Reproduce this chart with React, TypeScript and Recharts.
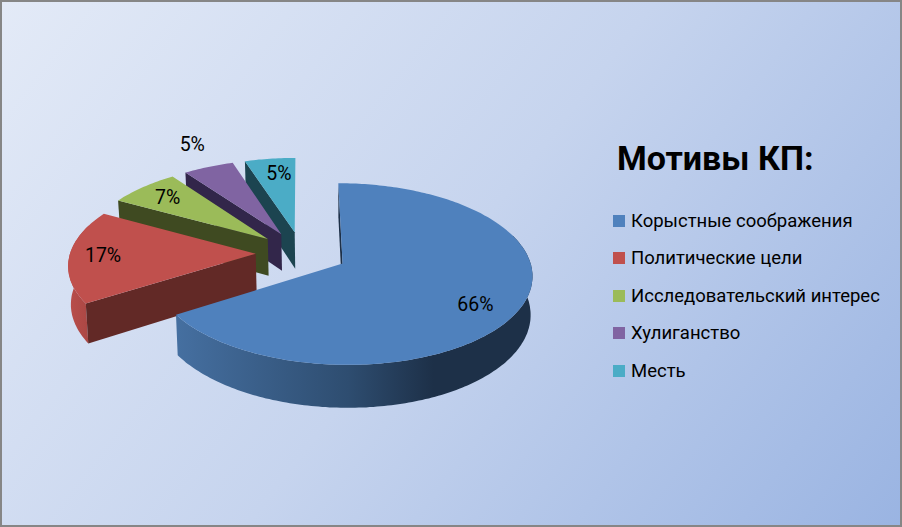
import { PieChart, Pie, Legend } from 'recharts';

const categories = ['Корыстные соображения', 'Политические цели', 'Исследовательский интерес', 'Хулиганство', 'Месть'];
const shares = [66, 17, 7, 5, 5];
const topColors = ['#4F81BD', '#C0504D', '#9BBB59', '#8064A2', '#4BACC6'];
const edgeColors = ['#1D3048', '#622926', '#3F4A21', '#32264A', '#1C4450'];
const rimFills = ['url(#rimBlue)', 'url(#rimRed)', '#5F7336', '#4E3D63', '#2E6979'];

// painted back to front, so the table runs the other way round the pie
const tableData = categories
  .map((name, i) => ({ name, value: shares[i], fill: topColors[i] }))
  .reverse();

const FONT = 'Roboto, sans-serif';
const TILT = 0.47;
const PERSPECTIVE = 0.000613;
const EXPLODE = 46;
const DEPTH = 37.5;
const VANISH_X = 345;

const rad = (deg: number) => (deg * Math.PI) / 180;

function project(cx: number, cy: number, u: number, v: number, low = false) {
  const s = 1 / (1 - PERSPECTIVE * v);
  const x = cx + u * s;
  const y = cy + TILT * v * s;
  if (!low) return [x, y];
  return [VANISH_X + (x - VANISH_X) * 0.99, y + DEPTH * s];
}

function toPath(points: number[][]) {
  return 'M' + points.map((p) => p[0].toFixed(1) + ' ' + p[1].toFixed(1)).join('L') + 'Z';
}

function Slice3D(props: any) {
  const { cx, cy, outerRadius, startAngle, endAngle, name } = props;
  const i = categories.indexOf(name);
  // clockwise degrees from the top of the pie
  const from = 90 - Math.max(startAngle, endAngle) + 360;
  const to = 90 - Math.min(startAngle, endAngle) + 360;
  const mid = (from + to) / 2;
  const offU = EXPLODE * Math.sin(rad(mid));
  const offV = -EXPLODE * Math.cos(rad(mid));
  const rim = (deg: number, low = false) =>
    project(cx, cy, offU + outerRadius * Math.sin(rad(deg)), offV - outerRadius * Math.cos(rad(deg)), low);
  const apex = (low = false) => project(cx, cy, offU, offV, low);

  const arc: number[] = [];
  for (let d = from; d < to; d += 1) arc.push(d);
  arc.push(to);

  const front = arc.filter((d) => {
    const a = ((d % 360) + 360) % 360;
    return a > 70 && a < 290;
  });
  const wallTop = front.map((d) => rim(d));
  const wallLow = front.map((d) => rim(d, true)).reverse();

  return (
    <g>
      {front.length > 1 && <path d={toPath([...wallTop, ...wallLow])} fill={rimFills[i]} />}
      <path d={toPath([apex(), rim(from), rim(from, true), apex(true)])} fill={edgeColors[i]} />
      <path d={toPath([apex(), ...arc.map((d) => rim(d))])} fill={topColors[i]} />
    </g>
  );
}

// the purple slice has its label outside, the others sit inside the rim
const labelReach: Record<string, number> = {
  'Корыстные соображения': 0.8,
  'Политические цели': 0.83,
  'Исследовательский интерес': 0.79,
  'Хулиганство': 1.36,
  'Месть': 0.78,
};
const labelNudge: Record<string, number[]> = {
  'Корыстные соображения': [-7, 5],
  'Политические цели': [2, 0],
  'Исследовательский интерес': [0, 0],
  'Хулиганство': [7, -1],
  'Месть': [4, 0],
};

function PercentLabel(props: any) {
  const { cx, cy, outerRadius, midAngle, name, value } = props;
  const mid = 90 - midAngle;
  const r = EXPLODE + outerRadius * labelReach[name];
  const [x, y] = project(cx, cy, r * Math.sin(rad(mid)), -r * Math.cos(rad(mid)));
  return (
    <text
      x={x + labelNudge[name][0]}
      y={y + labelNudge[name][1]}
      textAnchor="middle"
      dominantBaseline="central"
      fontFamily={FONT}
      fontSize={19.5}
      fill="#000"
    >
      {value + '%'}
    </text>
  );
}

function LegendBox() {
  return (
    <div style={{ fontFamily: FONT, color: '#000' }}>
      <div style={{ fontSize: 34, fontWeight: 700, lineHeight: '46px', marginLeft: 4, marginBottom: 21, whiteSpace: 'nowrap' }}>
        Мотивы КП:
      </div>
      {categories.map((name, i) => (
        <div key={name} style={{ display: 'flex', alignItems: 'center', height: 37.5, fontSize: 18.5, whiteSpace: 'nowrap' }}>
          <span style={{ width: 12, height: 12, background: topColors[i], marginRight: 6, flex: 'none' }} />
          {name}
        </div>
      ))}
    </div>
  );
}

export default function App() {
  return (
    <div
      style={{
        position: 'absolute',
        left: 0,
        top: 0,
        width: 902,
        height: 527,
        boxSizing: 'border-box',
        border: '2px solid #868686',
        background: 'linear-gradient(128deg, #E3EAF7 0%, #C6D4EE 50%, #9AB4E2 100%)',
      }}
    >
      <div style={{ position: 'absolute', left: -2, top: -2 }}>
        <PieChart width={902} height={527} margin={{ top: 0, right: 0, bottom: 0, left: 0 }}>
          <defs>
            <linearGradient id="rimBlue" gradientUnits="userSpaceOnUse" x1="178" y1="0" x2="533" y2="0">
              <stop offset="0%" stopColor="#456FA0" />
              <stop offset="48%" stopColor="#2E4D70" />
              <stop offset="72%" stopColor="#1D3048" />
              <stop offset="100%" stopColor="#1D3048" />
            </linearGradient>
            <linearGradient id="rimRed" gradientUnits="userSpaceOnUse" x1="68" y1="0" x2="92" y2="0">
              <stop offset="0%" stopColor="#BA4E4B" />
              <stop offset="100%" stopColor="#A84643" />
            </linearGradient>
          </defs>
          <Pie
            data={tableData}
            dataKey="value"
            nameKey="name"
            cx={301.7}
            cy={253}
            outerRadius={185.5}
            startAngle={90}
            endAngle={450}
            stroke="none"
            shape={Slice3D}
            label={PercentLabel}
            labelLine={false}
            isAnimationActive={false}
          />
          <Legend
            layout="vertical"
            content={LegendBox}
            wrapperStyle={{ left: 613, top: 135, width: 285, bottom: 'auto', right: 'auto' }}
          />
        </PieChart>
      </div>
    </div>
  );
}
